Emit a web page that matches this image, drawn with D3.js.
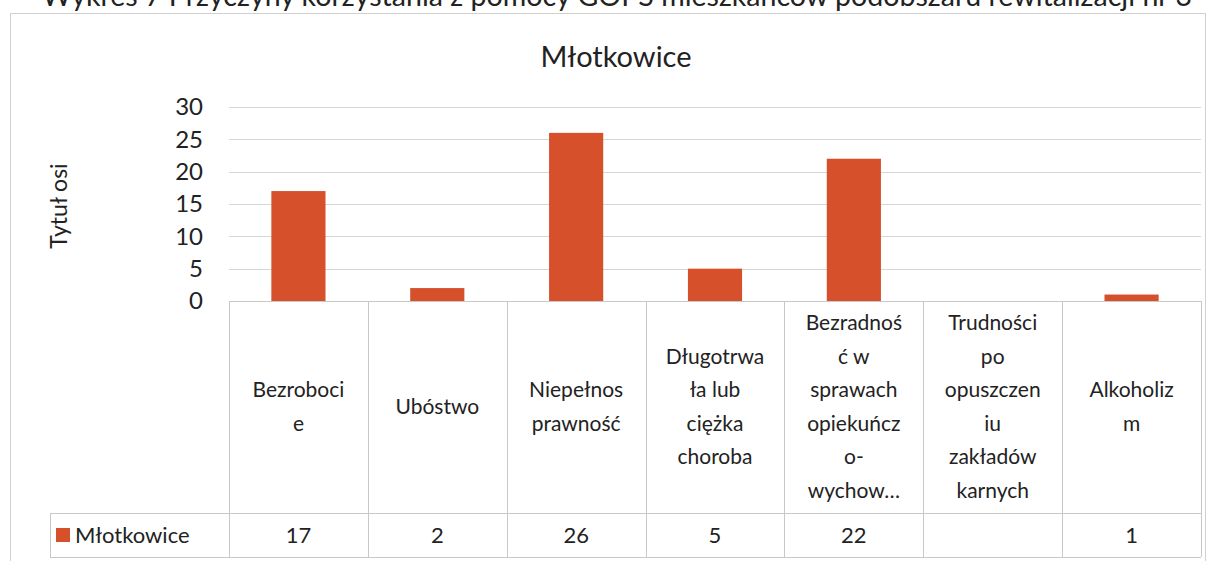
<!DOCTYPE html>
<html>
<head>
<meta charset="utf-8">
<script src="https://cdn.jsdelivr.net/npm/d3@7"></script>
<style>
  body { margin: 0; background: #fff; }
  text { font-family: Lato, "Open Sans", sans-serif; fill: #222; }
</style>
</head>
<body>
<div id="chart"></div>
<script>
// data
var categories = ["Bezrobocie", "Ubóstwo", "Niepełnosprawność", "Długotrwała lub ciężka choroba",
  "Bezradność w sprawach opiekuńczo-wychowawczych", "Trudności po opuszczeniu zakładów karnych", "Alkoholizm"];
// how the labels are wrapped in the table cells
var categoryLines = [
  ["Bezroboci", "e"],
  ["Ubóstwo"],
  ["Niepełnos", "prawność"],
  ["Długotrwa", "ła lub", "ciężka", "choroba"],
  ["Bezradnoś", "ć w", "sprawach", "opiekuńcz", "o-", "wychow…"],
  ["Trudności", "po", "opuszczen", "iu", "zakładów", "karnych"],
  ["Alkoholiz", "m"]
];
var values = [17, 2, 26, 5, 22, null, 1];
var yTicks = [0, 5, 10, 15, 20, 25, 30];
var seriesName = "Młotkowice";
var chartTitle = "Młotkowice";
var caption = "Wykres 7 Przyczyny korzystania z pomocy GOPS mieszkańców podobszaru rewitalizacji nr 3";

var svgWidth = 1213;
var svgHeight = 561;
var barColor = "#d5502b";

var svg = d3.select("#chart")
  .append("svg")
  .attr("width", svgWidth)
  .attr("height", svgHeight);

// caption above the chart box (cut off at the top in the scan)
svg.append("text")
  .attr("x", 617)
  .attr("y", 6)
  .attr("text-anchor", "middle")
  .attr("font-size", "28px")
  .attr("textLength", 1150)
  .attr("lengthAdjust", "spacingAndGlyphs")
  .text(caption);

// chart frame
svg.append("rect")
  .attr("x", 10.5).attr("y", 13.5)
  .attr("width", 1195).attr("height", 548)
  .attr("fill", "none")
  .attr("stroke", "#d0d0d0");

var plotLeft = 229, plotRight = 1201, plotTop = 107, plotBottom = 301;
var catRowBottom = 513, tableBottom = 557, legendLeft = 50;

var x = d3.scaleBand()
  .domain(categories)
  .range([plotLeft, plotRight])
  .padding(0);

var y = d3.scaleLinear()
  .domain([0, 30])
  .range([plotBottom, plotTop]);

// gridlines
svg.append("g")
  .selectAll("line")
  .data(yTicks)
  .enter()
  .append("line")
  .attr("x1", plotLeft).attr("x2", plotRight)
  .attr("y1", function (d) { return Math.round(y(d)) + 0.5; })
  .attr("y2", function (d) { return Math.round(y(d)) + 0.5; })
  .attr("stroke", "#d6d6d6");

// y axis labels
var leftAxis = d3.axisLeft(y).tickValues(yTicks).tickSize(0).tickPadding(0);
var axisG = svg.append("g")
  .attr("transform", "translate(203,0)")
  .call(leftAxis);
axisG.select(".domain").remove();
axisG.selectAll("text")
  .attr("font-size", "24px")
  .attr("font-family", "Lato, sans-serif")
  .attr("fill", "#222");

// axis title
svg.append("text")
  .attr("transform", "translate(67," + 206 + ") rotate(-90)")
  .attr("text-anchor", "middle")
  .attr("font-size", "23px")
  .text("Tytuł osi");

// chart title
svg.append("text")
  .attr("x", 616)
  .attr("y", 67)
  .attr("text-anchor", "middle")
  .attr("font-size", "29px")
  .text(chartTitle);

// bars
var barW = x.bandwidth() * 0.39;
svg.append("g")
  .selectAll("rect")
  .data(categories.map(function (c, i) { return { cat: c, v: values[i] }; })
    .filter(function (d) { return d.v != null; }))
  .enter()
  .append("rect")
  .attr("x", function (d) { return x(d.cat) + (x.bandwidth() - barW) / 2; })
  .attr("y", function (d) { return y(d.v); })
  .attr("width", barW)
  .attr("height", function (d) { return y(0) - y(d.v); })
  .attr("fill", barColor);

// data table
var tableG = svg.append("g")
  .attr("stroke", "#c8c8c8")
  .attr("fill", "none");

// horizontal lines
tableG.append("line").attr("x1", plotLeft).attr("x2", plotRight).attr("y1", plotBottom + 0.5).attr("y2", plotBottom + 0.5);
tableG.append("line").attr("x1", legendLeft).attr("x2", plotRight).attr("y1", catRowBottom + 0.5).attr("y2", catRowBottom + 0.5);
tableG.append("line").attr("x1", legendLeft).attr("x2", plotRight).attr("y1", tableBottom + 0.5).attr("y2", tableBottom + 0.5);
tableG.append("line").attr("x1", legendLeft + 0.5).attr("x2", legendLeft + 0.5).attr("y1", catRowBottom).attr("y2", tableBottom);

// vertical lines
var edges = categories.map(function (c) { return x(c); }).concat([plotRight]);
tableG.selectAll(".vline")
  .data(edges)
  .enter()
  .append("line")
  .attr("class", "vline")
  .attr("x1", function (d) { return Math.round(d) + 0.5; })
  .attr("x2", function (d) { return Math.round(d) + 0.5; })
  .attr("y1", plotBottom)
  .attr("y2", tableBottom);

// category labels
var lineH = 33.5;
var catMid = (plotBottom + catRowBottom) / 2;
categories.forEach(function (c, i) {
  var lines = categoryLines[i];
  var t = svg.append("text")
    .attr("text-anchor", "middle")
    .attr("font-size", "21px");
  lines.forEach(function (ln, j) {
    t.append("tspan")
      .attr("x", x(c) + x.bandwidth() / 2)
      .attr("y", catMid + (j - (lines.length - 1) / 2) * lineH + 7)
      .text(ln);
  });
});

// value row
var valMid = (catRowBottom + tableBottom) / 2;
svg.append("g")
  .selectAll("text")
  .data(categories)
  .enter()
  .append("text")
  .attr("x", function (c) { return x(c) + x.bandwidth() / 2; })
  .attr("y", valMid + 8)
  .attr("text-anchor", "middle")
  .attr("font-size", "22px")
  .text(function (c, i) { return values[i] == null ? "" : values[i]; });

// legend key in table
svg.append("rect")
  .attr("x", 56).attr("y", 528)
  .attr("width", 14).attr("height", 14)
  .attr("fill", barColor);
svg.append("text")
  .attr("x", 75)
  .attr("y", valMid + 8)
  .attr("font-size", "22px")
  .text(seriesName);
</script>
</body>
</html>
